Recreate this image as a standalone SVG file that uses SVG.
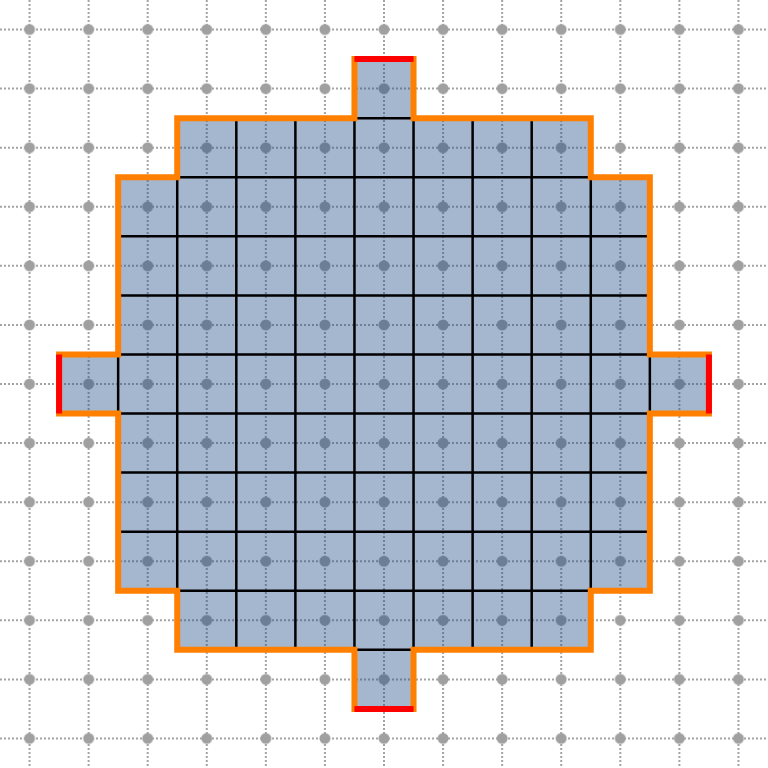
<svg xmlns="http://www.w3.org/2000/svg" width="768" height="768" viewBox="0 0 768 768">
<style>
.gl{stroke:#a4a4a4;stroke-width:2;stroke-dasharray:2,2;fill:none}
.in{stroke:#000;stroke-width:2.5;fill:none}
.ol{stroke:#ff8000;stroke-width:6;fill:none;stroke-linejoin:miter}
.rd{stroke:#ff0000;stroke-width:6;fill:none}
</style>
<defs>
<pattern id="dots" patternUnits="userSpaceOnUse" x="0" y="0" width="59.0769" height="59.0769">
<circle cx="29.54" cy="29.54" r="5.5" fill="#a0a0a0"/>
</pattern>
</defs>
<rect width="768" height="768" fill="#fff"/>
<g id="grid">
<path class="gl" d="M29.54 0V768M88.62 0V768M147.69 0V768M206.77 0V768M265.85 0V768M324.92 0V768M384 0V768M443.08 0V768M502.15 0V768M561.23 0V768M620.31 0V768M679.38 0V768M738.46 0V768"/>
<path class="gl" d="M0 29.54H768M0 88.62H768M0 147.69H768M0 206.77H768M0 265.85H768M0 324.92H768M0 384H768M0 443.08H768M0 502.15H768M0 561.23H768M0 620.31H768M0 679.38H768M0 738.46H768"/>
<rect width="768" height="768" fill="url(#dots)"/>
</g>
<g id="region">
<path fill="#1e4887" fill-opacity="0.4" d="M354.46 59.08H413.54V118.15H590.77V177.23H649.85V354.46H708.92V413.54H649.85V590.77H590.77V649.85H413.54V708.92H354.46V649.85H177.23V590.77H118.15V413.54H59.08V354.46H118.15V177.23H177.23V118.15H354.46Z"/>
<path class="in" d="M354.46 118.15H413.54M177.23 177.23H590.77M118.15 236.31H649.85M118.15 295.38H649.85M118.15 354.46H649.85M118.15 413.54H649.85M118.15 472.62H649.85M118.15 531.69H649.85M177.23 590.77H590.77M354.46 649.85H413.54"/>
<path class="in" d="M118.15 354.46V413.54M177.23 177.23V590.77M236.31 118.15V649.85M295.38 118.15V649.85M354.46 118.15V649.85M413.54 118.15V649.85M472.62 118.15V649.85M531.69 118.15V649.85M590.77 177.23V590.77M649.85 354.46V413.54"/>
</g>
<g id="outline">
<path class="ol" d="M354.46 59.08H413.54V118.15H590.77V177.23H649.85V354.46H708.92V413.54H649.85V590.77H590.77V649.85H413.54V708.92H354.46V649.85H177.23V590.77H118.15V413.54H59.08V354.46H118.15V177.23H177.23V118.15H354.46Z"/>
<path class="rd" d="M354.46 59.08H413.54M354.46 708.92H413.54M59.08 354.46V413.54M708.92 354.46V413.54"/>
</g>
</svg>
